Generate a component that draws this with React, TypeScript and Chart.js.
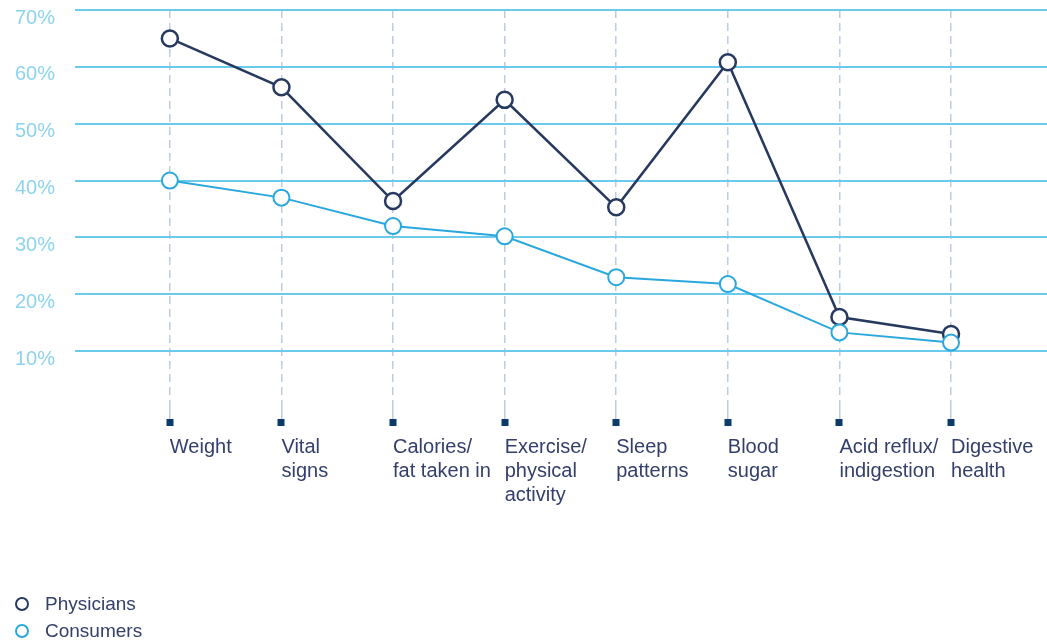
import { useEffect, useRef } from 'react';
import { Chart, registerables } from 'chart.js';

Chart.register(...registerables);

const categories: string[][] = [
  ['Weight'],
  ['Vital', 'signs'],
  ['Calories/', 'fat taken in'],
  ['Exercise/', 'physical', 'activity'],
  ['Sleep', 'patterns'],
  ['Blood', 'sugar'],
  ['Acid reflux/', 'indigestion'],
  ['Digestive', 'health'],
];
const physicians = [65, 56.4, 36.4, 54.2, 35.3, 60.8, 16, 13];
const consumers = [40, 37, 32, 30.2, 23, 21.8, 13.3, 11.5];
const yTickValues = [10, 20, 30, 40, 50, 60, 70];

const FONT = '"Liberation Sans", Arial, Helvetica, sans-serif';
const NAVY = '#27395f';
const CYAN = '#2aa8de';
const TEXT = '#34406b';

export default function App() {
  const ref = useRef<HTMLCanvasElement>(null);
  useEffect(() => {
    document.body.style.margin = '0';
    const markers = {
      id: 'markers',
      afterDatasetsDraw(chart: any) {
        const { ctx, scales, chartArea } = chart;
        const xs = scales.x;
        ctx.save();
        ctx.fillStyle = '#0c3a6a';
        xs.ticks.forEach((t: any) => {
          const px = xs.getPixelForValue(t.value);
          ctx.fillRect(Math.round(px) - 3.5, chartArea.bottom + 11, 7, 7);
        });
        ctx.restore();
      },
    };
    const legend = {
      id: 'sideLegend',
      afterDraw(chart: any) {
        const { ctx } = chart;
        ctx.save();
        chart.data.datasets.forEach((ds: any, i: number) => {
          const y = 604 + i * 27;
          ctx.beginPath();
          ctx.arc(22, y, 6, 0, Math.PI * 2);
          ctx.fillStyle = '#fff';
          ctx.fill();
          ctx.lineWidth = 2;
          ctx.strokeStyle = ds.borderColor;
          ctx.stroke();
          ctx.fillStyle = TEXT;
          ctx.font = `19px ${FONT}`;
          ctx.textBaseline = 'middle';
          ctx.textAlign = 'left';
          ctx.fillText(ds.label, 45, y + 1);
        });
        ctx.restore();
      },
    };
    const chart = new Chart(ref.current as HTMLCanvasElement, {
      type: 'line',
      data: {
        datasets: [
          {
            label: 'Physicians',
            data: physicians.map((v, i) => ({ x: i, y: v })),
            borderColor: NAVY,
            borderWidth: 2.5,
            pointRadius: 8,
            pointBorderWidth: 2.5,
            pointBackgroundColor: '#fff',
            pointBorderColor: NAVY,
            tension: 0,
            order: 2,
          },
          {
            label: 'Consumers',
            data: consumers.map((v, i) => ({ x: i, y: v })),
            borderColor: CYAN,
            borderWidth: 2,
            pointRadius: 8,
            pointBorderWidth: 2,
            pointBackgroundColor: '#fff',
            pointBorderColor: CYAN,
            tension: 0,
            order: 1,
          },
        ],
      },
      options: {
        responsive: false,
        animation: false,
        layout: { autoPadding: false, padding: { top: 10, right: 0, bottom: 0, left: 0 } },
        plugins: { legend: { display: false }, tooltip: { enabled: false } },
        scales: {
          x: {
            type: 'linear',
            min: -0.85,
            max: 7.86,
            afterBuildTicks: (axis: any) => {
              axis.ticks = categories.map((_, i) => ({ value: i }));
            },
            afterFit: (axis: any) => {
              axis.height = 236;
              axis.paddingLeft = 0;
              axis.paddingRight = 0;
            },
            grid: {
              color: '#bccddf',
              lineWidth: 1.5,
              drawTicks: true,
              tickLength: 11,
              tickColor: '#bccddf',
              tickWidth: 1.5,
            },
            border: { display: false, dash: [8, 5] },
            ticks: {
              autoSkip: false,
              maxRotation: 0,
              minRotation: 0,
              align: 'start',
              padding: 16,
              color: TEXT,
              font: { family: FONT, size: 20, lineHeight: 1.2 },
              callback: (v: any) => categories[v] ?? '',
            },
          },
          y: {
            min: 0,
            max: 70,
            afterBuildTicks: (axis: any) => {
              axis.ticks = [0, ...yTickValues].map((v) => ({ value: v }));
            },
            afterFit: (axis: any) => {
              axis.width = 75;
              axis.paddingTop = 0;
              axis.paddingBottom = 0;
            },
            grid: {
              color: (c: any) => (c.tick && c.tick.value === 0 ? 'rgba(0,0,0,0)' : '#6ccaec'),
              lineWidth: 2,
              drawTicks: false,
            },
            border: { display: false },
            ticks: {
              padding: 20,
              labelOffset: 8,
              color: '#8dd3ef',
              font: { family: FONT, size: 20 },
              callback: (v: any) => (v === 0 ? '' : `${v}%`),
            },
          },
        },
      },
      plugins: [markers, legend],
    } as any);
    return () => chart.destroy();
  }, []);
  return (
    <div style={{ width: 1047, height: 644 }}>
      <canvas ref={ref} width={1047} height={644} style={{ display: 'block' }} />
    </div>
  );
}
